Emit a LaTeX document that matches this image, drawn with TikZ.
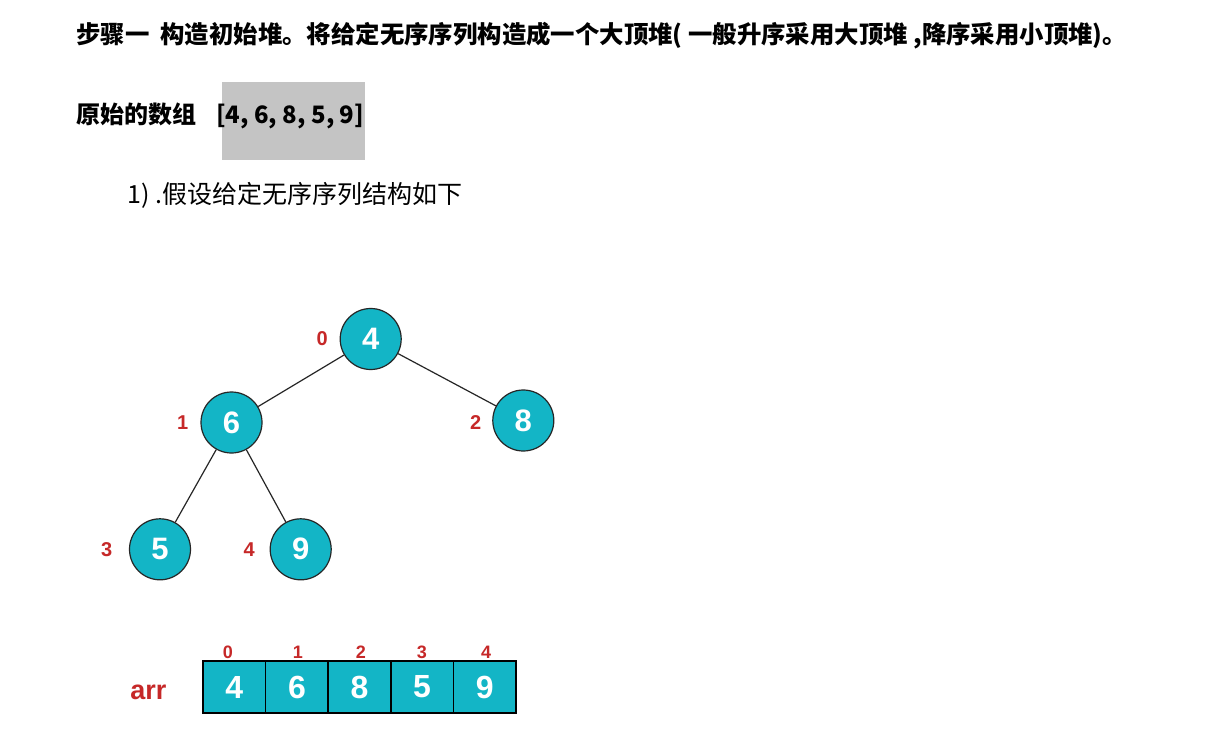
\documentclass[tikz,border=0pt]{standalone}
\usepackage{fontspec}
\setmainfont{Liberation Sans}
\newfontfamily\cjk{Noto Sans CJK SC}
\definecolor{tealfill}{HTML}{13B5C6}
\definecolor{idxred}{HTML}{C62828}
\definecolor{hlgray}{HTML}{C4C4C4}
\tikzset{
  heapnode/.style={circle, draw=black!85, line width=1.2pt, fill=tealfill,
    minimum size=61pt, inner sep=0pt, text=white,
    font=\fontsize{31}{31}\selectfont\bfseries},
  cellbox/.style={rectangle, draw=black, line width=1.5pt, fill=tealfill,
    minimum width=62.6pt, minimum height=52pt, inner sep=0pt, text=white,
    font=\fontsize{32}{32}\selectfont\bfseries},
  idxlabel/.style={text=idxred, inner sep=0pt,
    font=\fontsize{20}{20}\selectfont\bfseries},
  arridx/.style={text=idxred, inner sep=0pt,
    font=\fontsize{18}{18}\selectfont\bfseries},
  edge/.style={draw=black!85, line width=1.2pt},
  textline/.style={anchor=base west, inner sep=0pt, text=black}
}
\begin{document}
\begin{tikzpicture}[x=1pt,y=-1pt]
\useasboundingbox (0,0) rectangle (1213,749);
\fill[white] (0,0) rectangle (1213,749);
% highlight
\fill[hlgray] (222,82) rectangle (365,160);
% texts
\node[textline, font=\cjk\bfseries\fontsize{24.4}{28}\selectfont] (title) at (76,43.5)
  {步骤一\ \ 构造初始堆。将给定无序序列构造成一个大顶堆( 一般升序采用大顶堆 ,降序采用小顶堆)。};
\node[textline, font=\cjk\bfseries\fontsize{24}{28}\selectfont] (orig) at (76,124)
  {原始的数组\hspace{20pt}[4, 6, 8, 5, 9]};
\node[textline, font=\cjk\fontsize{25}{29}\selectfont] (step1) at (127,203.5)
  {1)\ .假设给定无序序列结构如下};
% heap nodes
\node[heapnode] (n0) at (370.7,339) {4};
\node[heapnode] (n1) at (231.5,422.5) {6};
\node[heapnode] (n2) at (523.3,420.5) {8};
\node[heapnode] (n3) at (160,549.3) {5};
\node[heapnode] (n4) at (300.7,549.3) {9};
\draw[edge] (n0) -- (n1);
\draw[edge] (n0) -- (n2);
\draw[edge] (n1) -- (n3);
\draw[edge] (n1) -- (n4);
% index labels
\node[idxlabel] (l0) at (322.3,338.3) {0};
\node[idxlabel] (l1) at (182.7,422.3) {1};
\node[idxlabel] (l2) at (475.7,422.7) {2};
\node[idxlabel] (l3) at (106.7,550) {3};
\node[idxlabel] (l4) at (249.3,550) {4};
% array
\node[cellbox] (c0) at (234.3,687) {4};
\node[cellbox] (c1) at (296.9,687) {6};
\node[cellbox] (c2) at (359.5,687) {8};
\node[cellbox] (c3) at (422.1,687) {5};
\node[cellbox] (c4) at (484.7,687) {9};
\node[arridx] (a0) at (228,652) {0};
\node[arridx] (a1) at (298,652) {1};
\node[arridx] (a2) at (361,652) {2};
\node[arridx] (a3) at (422,652) {3};
\node[arridx] (a4) at (486,652) {4};
\node[anchor=base, inner sep=0pt, text=idxred, font=\fontsize{27}{27}\selectfont\bfseries] (arr) at (148.3,699) {arr};
\end{tikzpicture}
\end{document}
